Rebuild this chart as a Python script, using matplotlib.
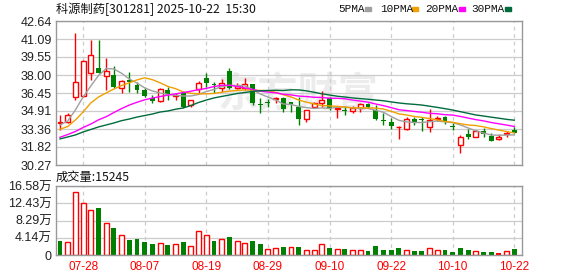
import matplotlib
matplotlib.use('Agg')
import matplotlib.pyplot as plt

plt.rcParams['font.family'] = ['Liberation Sans', 'Noto Sans CJK SC', 'DejaVu Sans']

title = '科源制药[301281] 2025-10-22  15:30'
vol_title = '成交量:15245'
tick_idx = [3, 11, 19, 27, 35, 43, 51, 59]
tick_lbl = ['07-28', '08-07', '08-19', '08-29', '09-10', '09-22', '10-10', '10-22']
price_ticks = [30.27, 31.82, 33.36, 34.91, 36.45, 38.00, 39.55, 41.09, 42.64]
price_lbl = ['30.27', '31.82', '33.36', '34.91', '36.45', '38.00', '39.55', '41.09', '42.64']
vol_ticks = [0, 4.14, 8.29, 12.43, 16.58]
vol_lbl = ['0', '4.14万', '8.29万', '12.43万', '16.58万']
ma_names = ['5PMA', '10PMA', '20PMA', '30PMA']

opens = [33.85, 33.97, 36.14, 36.22, 38.15, 38.63, 37.89, 38.00, 36.86, 37.55,
         37.14, 36.71, 36.05, 35.80, 36.71, 36.20, 36.48, 35.43, 36.80, 37.77,
         37.20, 36.91, 38.37, 36.91, 36.91, 37.20, 35.55, 35.70, 35.94, 36.05,
         35.65, 35.28, 34.20, 35.28, 35.57, 36.05, 35.10, 35.00, 34.93, 35.14,
         35.51, 34.99, 34.12, 33.99, 33.50, 33.36, 34.20, 34.22, 33.51, 34.25,
         34.42, 33.60, 31.99, 32.93, 32.70, 33.22, 32.76, 32.48, 32.95, 33.30]
highs = [34.57, 34.74, 41.64, 39.29, 41.01, 41.01, 39.44, 38.80, 37.57, 38.28,
         37.43, 36.86, 36.28, 36.89, 36.94, 36.48, 36.65, 35.85, 37.49, 38.20,
         37.40, 37.63, 38.58, 37.29, 37.75, 37.25, 36.03, 35.91, 36.14, 36.14,
         35.71, 36.14, 34.99, 35.71, 36.65, 36.14, 35.23, 35.34, 35.34, 35.57,
         35.60, 35.43, 34.71, 34.28, 33.62, 34.37, 34.42, 34.42, 35.06, 34.48,
         34.48, 33.85, 32.85, 33.34, 33.28, 33.42, 33.00, 32.91, 33.19, 33.57]
lows = [33.28, 33.88, 35.85, 36.14, 37.57, 38.15, 36.71, 36.86, 36.48, 36.57,
        36.43, 36.09, 35.62, 35.71, 35.85, 35.85, 35.14, 35.23, 36.43, 36.94,
        36.46, 36.57, 36.80, 36.77, 36.71, 35.40, 34.70, 35.23, 35.57, 34.85,
        34.85, 33.71, 33.99, 35.14, 35.28, 35.00, 34.28, 34.57, 34.71, 34.85,
        35.20, 34.14, 33.71, 33.34, 32.48, 33.28, 33.71, 33.22, 33.13, 34.08,
        33.77, 33.28, 31.33, 32.48, 32.65, 32.70, 32.35, 32.42, 32.70, 32.99]
closes = [33.95, 34.57, 37.37, 39.20, 39.72, 38.15, 38.37, 37.00, 37.49, 37.42,
          36.71, 36.22, 35.80, 36.77, 36.37, 36.28, 35.28, 35.85, 37.29, 37.34,
          37.10, 37.29, 36.86, 37.06, 37.20, 35.60, 35.40, 35.60, 36.03, 35.06,
          35.55, 34.20, 34.99, 35.57, 35.85, 35.10, 35.15, 34.95, 35.14, 35.51,
          35.23, 34.22, 34.05, 33.65, 33.55, 34.20, 33.85, 34.15, 34.14, 34.35,
          33.94, 33.55, 32.70, 32.70, 33.19, 32.93, 32.36, 32.70, 33.05, 33.05]

ma5 = [33.71, 34.05, 35.00, 36.11, 37.06, 37.96, 38.56, 38.52, 38.15, 37.66,
       37.31, 36.89, 36.63, 36.46, 36.33, 36.26, 36.20, 36.20, 36.33, 36.58,
       36.76, 37.01, 37.12, 37.10, 37.06, 36.76, 36.37, 36.11, 35.86, 35.51,
       35.47, 35.30, 35.20, 35.13, 35.17, 35.13, 35.23, 35.25, 35.18, 35.10,
       35.13, 34.97, 34.80, 34.44, 34.11, 33.97, 33.92, 33.92, 33.99, 34.05,
       33.97, 33.91, 33.71, 33.45, 33.21, 33.02, 32.85, 32.82, 32.85, 32.85]
ma10 = [33.34, 33.58, 34.14, 34.82, 35.60, 36.11, 36.46, 36.80, 37.10, 37.33,
        37.58, 37.76, 37.60, 37.33, 37.02, 36.83, 36.55, 36.43, 36.38, 36.38,
        36.42, 36.52, 36.62, 36.67, 36.72, 36.70, 36.68, 36.65, 36.52, 36.30,
        36.12, 35.85, 35.67, 35.52, 35.38, 35.34, 35.31, 35.25, 35.17, 35.19,
        35.17, 35.16, 35.08, 34.89, 34.66, 34.57, 34.44, 34.36, 34.26, 34.14,
        34.01, 33.94, 33.81, 33.71, 33.66, 33.55, 33.40, 33.27, 33.15, 33.02]
ma20 = [32.65, 32.89, 33.15, 33.49, 33.79, 34.15, 34.42, 34.78, 35.12, 35.42,
        35.66, 35.87, 36.02, 36.15, 36.27, 36.38, 36.49, 36.61, 36.74, 36.85,
        37.01, 37.12, 37.12, 37.01, 36.89, 36.76, 36.61, 36.54, 36.47, 36.35,
        36.29, 36.19, 36.15, 36.09, 36.07, 36.01, 36.00, 35.96, 35.85, 35.76,
        35.67, 35.51, 35.37, 35.20, 35.02, 34.95, 34.87, 34.80, 34.71, 34.67,
        34.59, 34.56, 34.44, 34.30, 34.17, 34.06, 33.92, 33.81, 33.70, 33.58]
ma30 = [32.51, 32.68, 32.85, 33.11, 33.32, 33.54, 33.71, 33.88, 34.08, 34.22,
        34.39, 34.52, 34.65, 34.82, 34.91, 35.06, 35.17, 35.38, 35.64, 35.85,
        36.03, 36.16, 36.28, 36.41, 36.50, 36.59, 36.65, 36.67, 36.69, 36.67,
        36.73, 36.72, 36.64, 36.52, 36.39, 36.28, 36.18, 36.11, 36.03, 35.97,
        35.92, 35.85, 35.79, 35.69, 35.60, 35.53, 35.48, 35.42, 35.32, 35.22,
        35.11, 34.99, 34.85, 34.71, 34.57, 34.48, 34.38, 34.29, 34.19, 34.12]

# volume in 万 shares, colour code: r = up (hollow), g = down, R = up (filled)
volume = [3.36, 3.05, 15.21, 12.42, 10.74, 11.29, 7.62, 6.49, 4.73, 3.60,
          3.84, 3.12, 2.64, 2.88, 2.40, 2.64, 3.12, 2.08, 5.77, 4.73,
          3.36, 3.77, 4.33, 3.28, 2.88, 3.36, 2.64, 1.36, 1.60, 1.92,
          1.84, 1.92, 1.12, 1.12, 2.56, 1.68, 1.36, 1.44, 1.12, 1.12,
          0.96, 2.16, 1.20, 1.20, 1.60, 1.12, 0.96, 0.96, 1.60, 1.12,
          1.20, 0.72, 1.60, 1.20, 0.88, 0.72, 0.72, 0.48, 0.96, 1.52]
vol_dir = 'grrrrgrgrg' 'gggrgrgrrr' 'grgrrggrrg' 'rgrrrgrgrr' 'gggggrggrr' 'ggggrggRrg'

RED = '#ff0000'
GREEN = '#008000'
FRAME = '#999999'
GRID = '#cccccc'
ma_colors = ['#a0a0a0', '#f0a000', '#ff00ff', '#006b3c']

W, H = 578, 276
def fx(px):
    return px / W
def fy(py):
    return 1 - py / H

fig = plt.figure(figsize=(5.78, 2.76), dpi=100)
ax = fig.add_axes([fx(56), fy(165), 466 / W, 144 / H])
axv = fig.add_axes([fx(56), fy(255), 466 / W, 69 / H])

n = len(closes)
xs = list(range(n))
bw = 0.64

# watermark
ax.text(0.52, 0.49, '东方财富', transform=ax.transAxes, fontsize=29,
        family=['Noto Sans CJK SC'], fontweight='bold', style='italic',
        color='#ececec', ha='center', va='center', zorder=0.5)

# candles
for i in xs:
    o, h, l, c = opens[i], highs[i], lows[i], closes[i]
    if c >= o:
        ax.vlines(i, c, h, color=RED, lw=1, zorder=2)
        ax.vlines(i, l, o, color=RED, lw=1, zorder=2)
        ax.bar(i, max(c - o, 0.01), bottom=o, width=bw, facecolor='white',
               edgecolor=RED, lw=1, zorder=2)
    else:
        ax.vlines(i, l, h, color=GREEN, lw=1, zorder=2)
        ax.bar(i, o - c, bottom=c, width=bw, color=GREEN, lw=0, zorder=2)

for vals, col in zip([ma5, ma10, ma20, ma30], ma_colors):
    ax.plot(xs, vals, color=col, lw=1, zorder=3)

# volume bars
for i in xs:
    d = vol_dir[i]
    if d == 'g':
        axv.bar(i, volume[i], width=bw, color=GREEN, lw=0, zorder=2)
    elif d == 'R':
        axv.bar(i, volume[i], width=bw, color=RED, lw=0, zorder=2)
    else:
        axv.bar(i, volume[i], width=bw, facecolor='white', edgecolor=RED, lw=1, zorder=2)

for a in (ax, axv):
    a.set_xlim(-0.52, 60)
    a.set_xticks(tick_idx)
    a.grid(axis='y', color=GRID, lw=0.9, ls='-', zorder=0)
    a.grid(axis='x', color=GRID, lw=0.9, ls=(0, (3, 3)), zorder=0)
    a.tick_params(length=0, labelsize=9, colors='#222222', pad=3)
    for s in a.spines.values():
        s.set_color(FRAME)
        s.set_linewidth(1)

ax.set_ylim(price_ticks[0], price_ticks[-1])
ax.set_yticks(price_ticks)
ax.set_yticklabels(price_lbl)
ax.set_xticklabels([])

axv.set_ylim(vol_ticks[0], vol_ticks[-1])
axv.set_yticks(vol_ticks)
axv.set_yticklabels(vol_lbl)
axv.set_xticklabels(tick_lbl, fontsize=8.5, color=RED)
axv.tick_params(axis='x', colors=RED, pad=4)

# title and volume header
fig.text(fx(56), fy(9), title, fontsize=8.8, family=['Noto Sans CJK SC'],
         color='#111111', ha='left', va='center')
fig.text(fx(56), fy(177), vol_title, fontsize=8.8, family=['Noto Sans CJK SC'],
         color='#111111', ha='left', va='center')

# legend
leg_x = [338, 380, 425, 471]
mark_x = [365, 412, 459, 505]
for name, lx, mx, col in zip(ma_names, leg_x, mark_x, ma_colors):
    fig.text(fx(lx), fy(9), name, fontsize=8, family=['Liberation Mono'],
             color='#111111', ha='left', va='center')
    fig.patches.append(plt.Rectangle((fx(mx), fy(10.5)), 6 / W, 3 / H,
                                     transform=fig.transFigure, color=col))

fig.savefig('out.png', dpi=100)
